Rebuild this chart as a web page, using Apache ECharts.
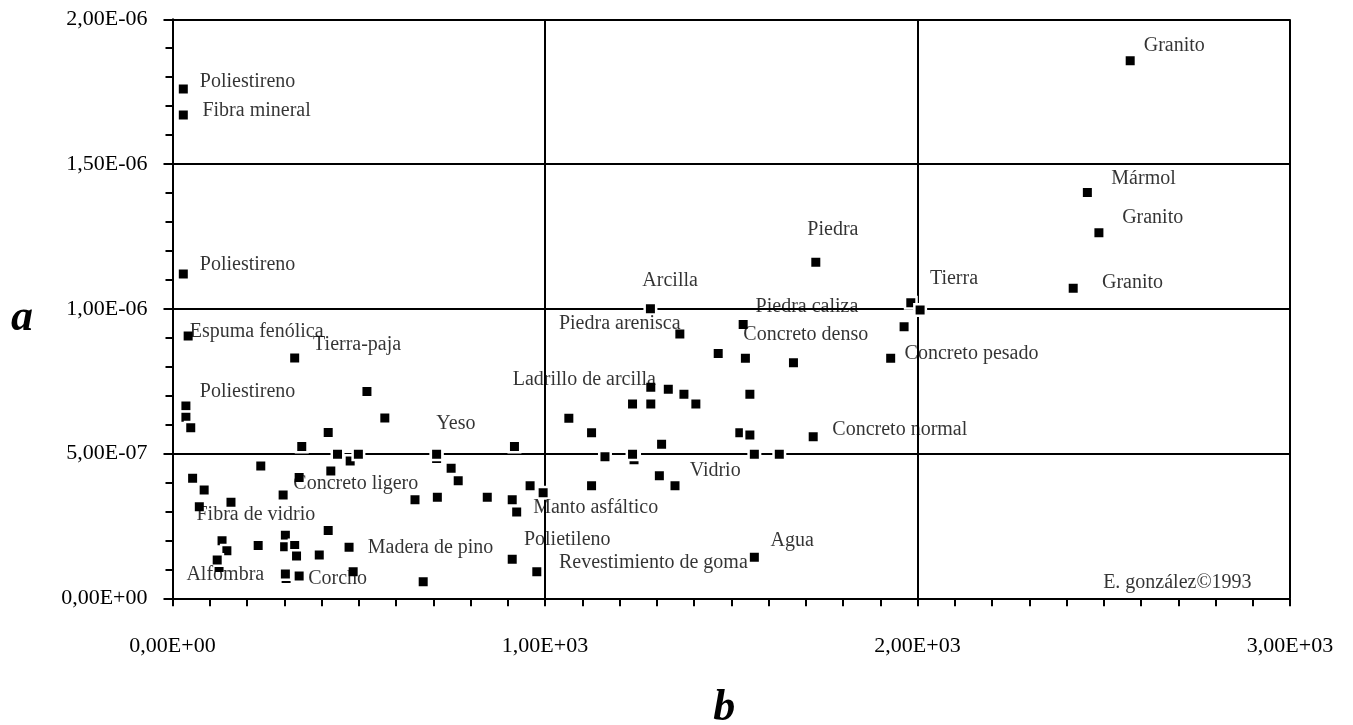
<!DOCTYPE html>
<html>
<head>
<meta charset="utf-8">
<script src="https://cdn.jsdelivr.net/npm/echarts@6/dist/echarts.min.js"></script>
<style>
html,body{margin:0;padding:0;background:#fff;}
#chart{width:1353px;height:725px;}
</style>
</head>
<body>
<div id="chart"></div>
<script>
// Data points [b, a] (order matters: earlier markers are partially hidden by later ones)
const points = [
  [709, 4.83e-7], [1239, 4.79e-7], [305, 0.68e-7], [125, 1.06e-7], [477, 4.74e-7],
  [29, 1.759e-6], [29, 1.669e-6], [29, 1.120e-6], [42, 9.06e-7], [328, 8.30e-7],
  [522, 7.14e-7], [570, 6.23e-7], [36, 6.64e-7], [36, 6.25e-7], [49, 5.89e-7],
  [418, 5.73e-7], [347, 5.24e-7], [443, 4.98e-7], [499, 4.98e-7], [709, 4.98e-7],
  [918, 5.24e-7], [54, 4.15e-7], [85, 3.74e-7], [72, 3.16e-7], [157, 3.32e-7],
  [237, 4.57e-7], [340, 4.17e-7], [425, 4.40e-7], [297, 3.57e-7], [748, 4.49e-7],
  [767, 4.06e-7], [651, 3.40e-7], [711, 3.49e-7], [845, 3.49e-7], [912, 3.40e-7],
  [924, 2.98e-7], [960, 3.89e-7], [995, 3.65e-7], [133, 1.99e-7], [146, 1.64e-7],
  [120, 1.32e-7], [230, 1.82e-7], [303, 2.18e-7], [301, 1.78e-7], [328, 1.82e-7],
  [333, 1.46e-7], [418, 2.34e-7], [394, 1.50e-7], [474, 1.76e-7], [485, 0.92e-7],
  [303, 0.84e-7], [340, 0.77e-7], [673, 0.57e-7], [912, 1.35e-7], [978, 0.92e-7],
  [1283, 1.00e-6], [1362, 9.13e-7], [1532, 9.46e-7], [1465, 8.46e-7], [1538, 8.29e-7],
  [1667, 8.14e-7], [1928, 8.29e-7], [1284, 7.29e-7], [1331, 7.22e-7], [1373, 7.05e-7],
  [1405, 6.71e-7], [1235, 6.71e-7], [1284, 6.71e-7], [1550, 7.05e-7], [1064, 6.22e-7],
  [1125, 5.72e-7], [1523, 5.72e-7], [1550, 5.64e-7], [1720, 5.58e-7], [1313, 5.32e-7],
  [1161, 4.89e-7], [1235, 4.98e-7], [1562, 4.98e-7], [1629, 4.98e-7], [1307, 4.23e-7],
  [1349, 3.89e-7], [1125, 3.89e-7], [1562, 1.42e-7],
  [1727, 1.161e-6], [1964, 9.38e-7], [1982, 1.021e-6], [2007, 9.96e-7],
  [2571, 1.857e-6], [2456, 1.402e-6], [2487, 1.263e-6], [2418, 1.071e-6]
];

// Annotation texts and their anchor (left edge, vertical middle) in data units
const labelNames = [
  'Poliestireno', 'Fibra mineral', 'Poliestireno', 'Espuma fenólica', 'Tierra-paja',
  'Poliestireno', 'Yeso', 'Concreto ligero', 'Fibra de vidrio', 'Madera de pino',
  'Alfombra', 'Corcho', 'Polietileno', 'Revestimiento de goma', 'Manto asfáltico',
  'Vidrio', 'Agua', 'Ladrillo de arcilla', 'Piedra arenisca', 'Concreto denso',
  'Piedra caliza', 'Concreto normal', 'Arcilla', 'Piedra', 'Tierra',
  'Concreto pesado', 'Granito', 'Mármol', 'Granito', 'Granito', 'E. gonzález©1993'
];
const labelB = [
  72, 79, 72, 45, 376,
  72, 707, 323, 63, 523,
  36, 363, 942, 1036, 967,
  1387, 1604, 912, 1036, 1531,
  1564, 1770, 1260, 1703, 2032,
  1964, 2606, 2519, 2548, 2494, 2497
];
const labelA = [
  1.784e-6, 1.684e-6, 1.151e-6, 9.19e-7, 8.77e-7,
  7.14e-7, 6.04e-7, 3.97e-7, 2.88e-7, 1.76e-7,
  0.80e-7, 0.66e-7, 2.01e-7, 1.24e-7, 3.14e-7,
  4.41e-7, 1.99e-7, 7.54e-7, 9.47e-7, 9.12e-7,
  1.008e-6, 5.81e-7, 1.096e-6, 1.272e-6, 1.103e-6,
  8.44e-7, 1.908e-6, 1.448e-6, 1.313e-6, 1.090e-6, 0.52e-7
];

// Axis settings
const xMin = 0, xMax = 3000, xStep = 1000;
const yMin = 0, yMax = 2e-6, yStep = 5e-7;
const xTitle = 'b', yTitle = 'a';

function fmt(v) {
  const s = Number(v).toExponential(2);
  const parts = s.split('e');
  const e = parseInt(parts[1], 10);
  const d = Math.abs(e);
  return parts[0].replace('.', ',') + 'E' + (e < 0 ? '-' : '+') + (d < 10 ? '0' + d : d);
}

const FONT = '"Liberation Serif", "Times New Roman", serif';
const black = '#000';

const chart = echarts.init(document.getElementById('chart'), null, {renderer: 'canvas'});
chart.setOption({
  backgroundColor: '#fff',
  animation: false,
  grid: {left: 172.5, right: 63, top: 19.3, bottom: 126.7, containLabel: false, outerBoundsMode: 'none'},
  graphic: [{
    type: 'text', left: 11, top: 297, silent: true,
    style: {text: yTitle, font: 'italic bold 44px "Liberation Serif", serif', fill: black}
  }],
  xAxis: {
    type: 'value', min: xMin, max: xMax, interval: xStep,
    name: xTitle, nameLocation: 'middle', nameGap: 88,
    nameTextStyle: {fontFamily: FONT, fontSize: 44, fontStyle: 'italic', fontWeight: 'bold', color: black, padding: [0, 14, 0, 0]},
    axisLine: {show: true, onZero: false, lineStyle: {color: black, width: 2}},
    axisTick: {show: true, length: 8, lineStyle: {color: black, width: 2}},
    minorTick: {show: true, splitNumber: 10, length: 8, lineStyle: {color: black, width: 2}},
    splitLine: {show: true, lineStyle: {color: black, width: 2}},
    axisLabel: {margin: 37, fontFamily: FONT, fontSize: 22, color: black, formatter: fmt, showMinLabel: true, showMaxLabel: true}
  },
  yAxis: {
    type: 'value', min: yMin, max: yMax, interval: yStep,
    axisLine: {show: true, onZero: false, lineStyle: {color: black, width: 2}},
    axisTick: {show: true, length: 9, lineStyle: {color: black, width: 2}},
    minorTick: {show: true, splitNumber: 5, length: 7, lineStyle: {color: black, width: 2}},
    splitLine: {show: true, lineStyle: {color: black, width: 2}},
    axisLabel: {margin: 25, fontFamily: FONT, fontSize: 22, color: black, formatter: fmt, showMinLabel: true, showMaxLabel: true}
  },
  series: [
    {
      type: 'scatter',
      silent: true,
      symbol: 'circle',
      symbolSize: 1,
      itemStyle: {color: 'rgba(0,0,0,0)'},
      label: {
        show: true, position: 'right', distance: 0, formatter: '{b}',
        fontFamily: FONT, fontSize: 20, color: black
      },
      data: labelNames.map((n, i) => ({name: n, value: [labelB[i], labelA[i]]}))
    },
    {
      type: 'scatter',
      symbol: 'rect',
      symbolSize: 11.5,
      itemStyle: {color: black, borderColor: '#fff', borderWidth: 2.5, opacity: 1},
      data: points
    }
  ]
});
</script>
</body>
</html>
